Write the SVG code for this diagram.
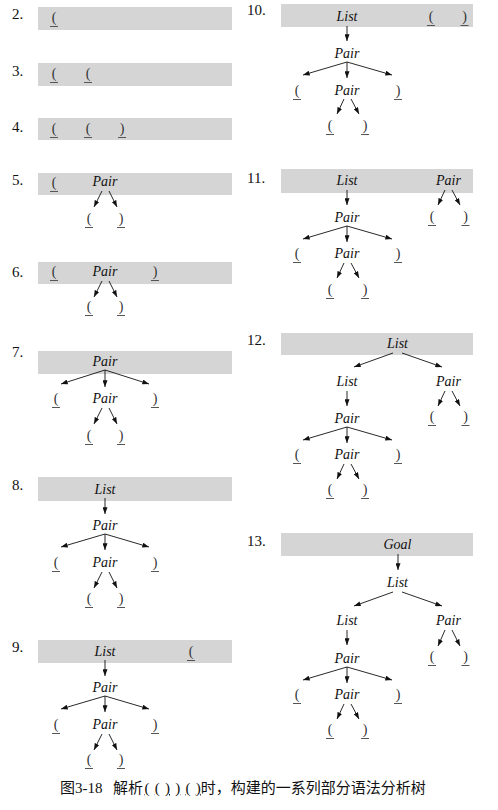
<svg xmlns="http://www.w3.org/2000/svg" width="498" height="810" viewBox="0 0 498 810">
<defs>
<style>
.band{fill:#d5d5d5}
.num{font-family:'Liberation Serif','Times New Roman',serif;font-size:15px;fill:#111}
.nt{font-family:'Liberation Serif','Times New Roman',serif;font-size:14px;font-style:italic;text-anchor:middle;fill:#111}
.t{font-family:'Liberation Serif','Times New Roman',serif;font-size:14px;text-anchor:middle;fill:#333}
.u{stroke:#555;stroke-width:1}
.c line{stroke:#111;stroke-width:0.9;marker-end:url(#ah)}
.cap{font-family:'Liberation Serif','Times New Roman','Noto Sans CJK SC',serif;font-size:15px;fill:#111}
</style>
<marker id="ah" viewBox="0 0 8 6" refX="8" refY="3" markerWidth="7" markerHeight="5" orient="auto" markerUnits="userSpaceOnUse"><path d="M0,0 L8,3 L0,6 z" fill="#111"/></marker>
</defs>
<rect width="498" height="810" fill="#fff"/>

<!-- bands and step numbers -->
<g id="bands">
<rect class="band" x="38" y="7" width="194" height="23"/>
<rect class="band" x="38" y="63" width="194" height="23"/>
<rect class="band" x="38" y="118" width="194" height="22"/>
<rect class="band" x="38" y="173" width="194" height="22"/>
<rect class="band" x="38" y="262" width="194" height="22"/>
<rect class="band" x="38" y="351" width="194" height="23"/>
<rect class="band" x="38" y="477" width="194" height="24"/>
<rect class="band" x="38" y="640" width="194" height="23"/>
<rect class="band" x="281" y="4" width="192" height="23"/>
<rect class="band" x="281" y="169" width="192" height="24"/>
<rect class="band" x="281" y="333" width="192" height="22"/>
<rect class="band" x="281" y="533" width="192" height="23"/>
</g>
<g id="numbers">
<text class="num" x="12" y="19">2.</text>
<text class="num" x="12" y="76">3.</text>
<text class="num" x="12" y="132">4.</text>
<text class="num" x="12" y="185">5.</text>
<text class="num" x="12" y="277">6.</text>
<text class="num" x="12" y="357">7.</text>
<text class="num" x="12" y="490">8.</text>
<text class="num" x="12" y="652">9.</text>
<text class="num" x="247" y="15">10.</text>
<text class="num" x="247" y="183">11.</text>
<text class="num" x="247" y="345">12.</text>
<text class="num" x="247" y="546">13.</text>
</g>

<!-- connectors -->
<g id="connectors" class="c">
<line x1="102" y1="191" x2="94" y2="207"/><line x1="109" y1="191" x2="117" y2="207"/>
<line x1="102" y1="281" x2="94" y2="297"/><line x1="109" y1="281" x2="117" y2="297"/>
<line x1="105" y1="370" x2="61" y2="384"/><line x1="105" y1="370" x2="105" y2="387"/><line x1="105" y1="370" x2="149" y2="384"/>
<line x1="102" y1="408" x2="94" y2="424"/><line x1="109" y1="408" x2="117" y2="424"/>
<line x1="105" y1="498" x2="105" y2="514"/>
<line x1="105" y1="534" x2="61" y2="547"/><line x1="105" y1="534" x2="105" y2="550"/><line x1="105" y1="534" x2="149" y2="547"/>
<line x1="102" y1="572" x2="94" y2="588"/><line x1="109" y1="572" x2="117" y2="588"/>
<line x1="105" y1="660" x2="105" y2="676"/>
<line x1="105" y1="696" x2="61" y2="709"/><line x1="105" y1="696" x2="105" y2="712"/><line x1="105" y1="696" x2="149" y2="709"/>
<line x1="102" y1="734" x2="94" y2="750"/><line x1="109" y1="734" x2="117" y2="750"/>
<line x1="347" y1="26" x2="347" y2="41"/>
<line x1="347" y1="62" x2="303" y2="75"/><line x1="347" y1="62" x2="347" y2="78"/><line x1="347" y1="62" x2="392" y2="75"/>
<line x1="344" y1="99" x2="337" y2="114"/><line x1="351" y1="99" x2="359" y2="114"/>
<line x1="445" y1="190" x2="438" y2="205"/><line x1="452" y1="190" x2="460" y2="205"/>
<line x1="347" y1="190" x2="347" y2="205"/>
<line x1="347" y1="226" x2="303" y2="239"/><line x1="347" y1="226" x2="347" y2="242"/><line x1="347" y1="226" x2="392" y2="239"/>
<line x1="344" y1="263" x2="337" y2="278"/><line x1="351" y1="263" x2="359" y2="278"/>
<line x1="393" y1="353" x2="354" y2="367"/><line x1="402" y1="353" x2="442" y2="367"/>
<line x1="347" y1="391" x2="347" y2="406"/>
<line x1="445" y1="391" x2="438" y2="406"/><line x1="452" y1="391" x2="460" y2="406"/>
<line x1="347" y1="427" x2="303" y2="440"/><line x1="347" y1="427" x2="347" y2="443"/><line x1="347" y1="427" x2="392" y2="440"/>
<line x1="344" y1="464" x2="337" y2="479"/><line x1="351" y1="464" x2="359" y2="479"/>
<line x1="398" y1="554" x2="398" y2="570"/>
<line x1="393" y1="592" x2="354" y2="606"/><line x1="402" y1="592" x2="442" y2="606"/>
<line x1="347" y1="630" x2="347" y2="645"/>
<line x1="445" y1="630" x2="438" y2="646"/><line x1="452" y1="630" x2="460" y2="646"/>
<line x1="347" y1="667" x2="303" y2="680"/><line x1="347" y1="667" x2="347" y2="683"/><line x1="347" y1="667" x2="392" y2="680"/>
<line x1="344" y1="704" x2="337" y2="719"/><line x1="351" y1="704" x2="359" y2="719"/>
</g>

<!-- step 2 -->
<g id="s2-lp1"><text class="t" x="54" y="22">(</text><line class="u" x1="50" y1="26.5" x2="58" y2="26.5"/></g>
<!-- step 3 -->
<g id="s3-lp1"><text class="t" x="54" y="78">(</text><line class="u" x1="50" y1="82.5" x2="58" y2="82.5"/></g>
<g id="s3-lp2"><text class="t" x="88" y="78">(</text><line class="u" x1="84" y1="82.5" x2="92" y2="82.5"/></g>
<!-- step 4 -->
<g id="s4-lp1"><text class="t" x="54" y="133">(</text><line class="u" x1="50" y1="137.5" x2="58" y2="137.5"/></g>
<g id="s4-lp2"><text class="t" x="88" y="133">(</text><line class="u" x1="84" y1="137.5" x2="92" y2="137.5"/></g>
<g id="s4-rp1"><text class="t" x="122" y="133">)</text><line class="u" x1="118" y1="137.5" x2="126" y2="137.5"/></g>
<!-- step 5 -->
<g id="s5-lp1"><text class="t" x="54" y="187">(</text><line class="u" x1="50" y1="191.5" x2="58" y2="191.5"/></g>
<g id="s5-pair"><text class="nt" x="105" y="186">Pair</text></g>
<g id="s5-lp2"><text class="t" x="89" y="223">(</text><line class="u" x1="85" y1="227.5" x2="93" y2="227.5"/></g>
<g id="s5-rp1"><text class="t" x="121" y="223">)</text><line class="u" x1="117" y1="227.5" x2="125" y2="227.5"/></g>
<!-- step 6 -->
<g id="s6-lp1"><text class="t" x="54" y="276">(</text><line class="u" x1="50" y1="280.5" x2="58" y2="280.5"/></g>
<g id="s6-pair"><text class="nt" x="105" y="276">Pair</text></g>
<g id="s6-rp2"><text class="t" x="155" y="276">)</text><line class="u" x1="151" y1="280.5" x2="159" y2="280.5"/></g>
<g id="s6-lp2"><text class="t" x="89" y="311">(</text><line class="u" x1="85" y1="315.5" x2="93" y2="315.5"/></g>
<g id="s6-rp1"><text class="t" x="121" y="311">)</text><line class="u" x1="117" y1="315.5" x2="125" y2="315.5"/></g>
<!-- step 7 -->
<g id="s7-pair"><text class="nt" x="105" y="366">Pair</text></g>
<g id="s7-lp1"><text class="t" x="56" y="403">(</text><line class="u" x1="52" y1="407.5" x2="60" y2="407.5"/></g>
<g id="s7-pair2"><text class="nt" x="105" y="403">Pair</text></g>
<g id="s7-rp2"><text class="t" x="155" y="403">)</text><line class="u" x1="151" y1="407.5" x2="159" y2="407.5"/></g>
<g id="s7-lp2"><text class="t" x="89" y="440">(</text><line class="u" x1="85" y1="444.5" x2="93" y2="444.5"/></g>
<g id="s7-rp1"><text class="t" x="121" y="440">)</text><line class="u" x1="117" y1="444.5" x2="125" y2="444.5"/></g>
<!-- step 8 -->
<g id="s8-list"><text class="nt" x="105" y="494">List</text></g>
<g id="s8-pair"><text class="nt" x="105" y="530">Pair</text></g>
<g id="s8-lp1"><text class="t" x="56" y="567">(</text><line class="u" x1="52" y1="571.5" x2="60" y2="571.5"/></g>
<g id="s8-pair2"><text class="nt" x="105" y="567">Pair</text></g>
<g id="s8-rp2"><text class="t" x="155" y="567">)</text><line class="u" x1="151" y1="571.5" x2="159" y2="571.5"/></g>
<g id="s8-lp2"><text class="t" x="89" y="603">(</text><line class="u" x1="85" y1="607.5" x2="93" y2="607.5"/></g>
<g id="s8-rp1"><text class="t" x="121" y="603">)</text><line class="u" x1="117" y1="607.5" x2="125" y2="607.5"/></g>
<!-- step 9 -->
<g id="s9-list"><text class="nt" x="105" y="656">List</text></g>
<g id="s9-lp3"><text class="t" x="191" y="656">(</text><line class="u" x1="187" y1="660.5" x2="195" y2="660.5"/></g>
<g id="s9-pair"><text class="nt" x="105" y="692">Pair</text></g>
<g id="s9-lp1"><text class="t" x="56" y="729">(</text><line class="u" x1="52" y1="733.5" x2="60" y2="733.5"/></g>
<g id="s9-pair2"><text class="nt" x="105" y="729">Pair</text></g>
<g id="s9-rp2"><text class="t" x="155" y="729">)</text><line class="u" x1="151" y1="733.5" x2="159" y2="733.5"/></g>
<g id="s9-lp2"><text class="t" x="89" y="764">(</text><line class="u" x1="85" y1="768.5" x2="93" y2="768.5"/></g>
<g id="s9-rp1"><text class="t" x="121" y="764">)</text><line class="u" x1="117" y1="768.5" x2="125" y2="768.5"/></g>
<!-- step 10 -->
<g id="s10-list"><text class="nt" x="347" y="21">List</text></g>
<g id="s10-lp3"><text class="t" x="431" y="21">(</text><line class="u" x1="427" y1="25.5" x2="435" y2="25.5"/></g>
<g id="s10-rp3"><text class="t" x="464.5" y="21">)</text><line class="u" x1="460.5" y1="25.5" x2="468.5" y2="25.5"/></g>
<g id="s10-pair"><text class="nt" x="347" y="58">Pair</text></g>
<g id="s10-lp1"><text class="t" x="297" y="95">(</text><line class="u" x1="293" y1="99.5" x2="301" y2="99.5"/></g>
<g id="s10-pair2"><text class="nt" x="347" y="95">Pair</text></g>
<g id="s10-rp2"><text class="t" x="398" y="95">)</text><line class="u" x1="394" y1="99.5" x2="402" y2="99.5"/></g>
<g id="s10-lp2"><text class="t" x="330" y="130">(</text><line class="u" x1="326" y1="134.5" x2="334" y2="134.5"/></g>
<g id="s10-rp1"><text class="t" x="365" y="130">)</text><line class="u" x1="361" y1="134.5" x2="369" y2="134.5"/></g>
<!-- step 11 -->
<g id="s11-list"><text class="nt" x="347" y="185">List</text></g>
<g id="s11-pair3"><text class="nt" x="448.5" y="185">Pair</text></g>
<g id="s11-lp3"><text class="t" x="432" y="221">(</text><line class="u" x1="428" y1="225.5" x2="436" y2="225.5"/></g>
<g id="s11-rp3"><text class="t" x="465.5" y="221">)</text><line class="u" x1="461.5" y1="225.5" x2="469.5" y2="225.5"/></g>
<g id="s11-pair"><text class="nt" x="347" y="222">Pair</text></g>
<g id="s11-lp1"><text class="t" x="297" y="258">(</text><line class="u" x1="293" y1="262.5" x2="301" y2="262.5"/></g>
<g id="s11-pair2"><text class="nt" x="347" y="258">Pair</text></g>
<g id="s11-rp2"><text class="t" x="398" y="258">)</text><line class="u" x1="394" y1="262.5" x2="402" y2="262.5"/></g>
<g id="s11-lp2"><text class="t" x="330" y="294">(</text><line class="u" x1="326" y1="298.5" x2="334" y2="298.5"/></g>
<g id="s11-rp1"><text class="t" x="365" y="294">)</text><line class="u" x1="361" y1="298.5" x2="369" y2="298.5"/></g>
<!-- step 12 -->
<g id="s12-list-root"><text class="nt" x="397.5" y="348">List</text></g>
<g id="s12-list"><text class="nt" x="347" y="386">List</text></g>
<g id="s12-pair3"><text class="nt" x="448.5" y="386">Pair</text></g>
<g id="s12-lp3"><text class="t" x="432" y="421">(</text><line class="u" x1="428" y1="425.5" x2="436" y2="425.5"/></g>
<g id="s12-rp3"><text class="t" x="465.5" y="421">)</text><line class="u" x1="461.5" y1="425.5" x2="469.5" y2="425.5"/></g>
<g id="s12-pair"><text class="nt" x="347" y="423">Pair</text></g>
<g id="s12-lp1"><text class="t" x="297" y="459">(</text><line class="u" x1="293" y1="463.5" x2="301" y2="463.5"/></g>
<g id="s12-pair2"><text class="nt" x="347" y="459">Pair</text></g>
<g id="s12-rp2"><text class="t" x="398" y="459">)</text><line class="u" x1="394" y1="463.5" x2="402" y2="463.5"/></g>
<g id="s12-lp2"><text class="t" x="330" y="494">(</text><line class="u" x1="326" y1="498.5" x2="334" y2="498.5"/></g>
<g id="s12-rp1"><text class="t" x="365" y="494">)</text><line class="u" x1="361" y1="498.5" x2="369" y2="498.5"/></g>
<!-- step 13 -->
<g id="s13-goal"><text class="nt" x="397.5" y="549">Goal</text></g>
<g id="s13-list-root"><text class="nt" x="397.5" y="587">List</text></g>
<g id="s13-list"><text class="nt" x="347" y="625">List</text></g>
<g id="s13-pair3"><text class="nt" x="448.5" y="625">Pair</text></g>
<g id="s13-lp3"><text class="t" x="432" y="661">(</text><line class="u" x1="428" y1="665.5" x2="436" y2="665.5"/></g>
<g id="s13-rp3"><text class="t" x="465.5" y="661">)</text><line class="u" x1="461.5" y1="665.5" x2="469.5" y2="665.5"/></g>
<g id="s13-pair"><text class="nt" x="347" y="663">Pair</text></g>
<g id="s13-lp1"><text class="t" x="297" y="699">(</text><line class="u" x1="293" y1="703.5" x2="301" y2="703.5"/></g>
<g id="s13-pair2"><text class="nt" x="347" y="699">Pair</text></g>
<g id="s13-rp2"><text class="t" x="398" y="699">)</text><line class="u" x1="394" y1="703.5" x2="402" y2="703.5"/></g>
<g id="s13-lp2"><text class="t" x="330" y="734">(</text><line class="u" x1="326" y1="738.5" x2="334" y2="738.5"/></g>
<g id="s13-rp1"><text class="t" x="365" y="734">)</text><line class="u" x1="361" y1="738.5" x2="369" y2="738.5"/></g>

<!-- caption -->
<g id="caption">
<text class="cap" x="60" y="793">图3-18</text>
<text class="cap" x="113" y="793">解析<tspan dx="1.5" text-decoration="underline">(</tspan> <tspan dx="1.5" text-decoration="underline">(</tspan> <tspan dx="1.5" text-decoration="underline">)</tspan> <tspan dx="1.5" text-decoration="underline">)</tspan> <tspan dx="1.5" text-decoration="underline">(</tspan> <tspan dx="1.5" text-decoration="underline">)</tspan>时，构建的一系列部分语法分析树</text>
</g>
</svg>
